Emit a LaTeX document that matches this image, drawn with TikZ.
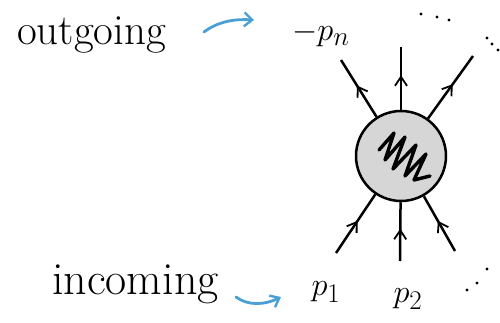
\documentclass[tikz,border=0pt]{standalone}
\usepackage{graphicx}
\usetikzlibrary{arrows.meta,decorations.markings}
\newcommand{\biglbl}[1]{\scalebox{1.3}{\fontsize{24.88}{26}\selectfont$#1$}}
\begin{document}
\begin{tikzpicture}[x=1pt,y=-1pt,
  leg/.style={line width=2.5pt,black},
  midarrow/.style={decoration={markings,mark=at position 0.55 with {\arrow{Straight Barb[length=9pt,width=12pt,line width=1.8pt]}}},postaction={decorate}},
  outfont/.style={font=\fontsize{43}{43}\selectfont},
  infont/.style={font=\fontsize{46}{46}\selectfont},
  mlbl/.style={inner sep=1pt},
  blue/.style={draw={rgb,255:red,74;green,160;blue,214},line width=2.8pt,line cap=round},
  dot/.style={circle,fill=black,inner sep=0pt,minimum size=3.2pt}
]
\useasboundingbox (0,0) rectangle (500,323);
\definecolor{blobgray}{RGB}{214,214,214}
\node[circle,draw,line width=2.5pt,fill=blobgray,minimum size=90pt,inner sep=0pt] (blob) at (401,156) {};
% scribble
\draw[line width=3.4pt,line join=round,line cap=round] (379,150) -- (394,133) -- (385,160) -- (405,137) -- (393,169) -- (416,145) -- (405,176) -- (426,154) -- (414,180) -- (430,176);
% outgoing lines
\coordinate (o1) at (341,60);
\coordinate (o2) at (401,47);
\coordinate (o3) at (473,56);
\draw[leg,midarrow] (blob) -- (o1);
\draw[leg,midarrow] (blob) -- (o2);
\draw[leg,midarrow] (blob) -- (o3);
% incoming lines
\coordinate (i1) at (336,253);
\coordinate (i2) at (400,261);
\coordinate (i3) at (455,251);
\draw[leg,midarrow] (i1) -- (blob);
\draw[leg,midarrow] (i2) -- (blob);
\draw[leg,midarrow] (i3) -- (blob);
% labels
\node[mlbl] (pn) at (321,34) {\biglbl{-p_n}};
\node[mlbl] (p1) at (326,292) {\biglbl{p_1}};
\node[mlbl] (p2) at (408,299) {\biglbl{p_2}};
\node[outfont,anchor=base west,inner sep=0pt] (out) at (17,45) {outgoing};
\node[infont,anchor=base west,inner sep=0pt] (inc) at (52,294) {incoming};
% blue arrows
\coordinate (a1s) at (204,32);
\coordinate (a1e) at (254,20);
\draw[blue,-{Straight Barb[length=8pt,width=14pt,line width=2.4pt]}] (a1s) .. controls (220,20) and (238,19) .. (a1e);
\coordinate (a2s) at (236,297);
\coordinate (a2e) at (281,297);
\draw[blue,-{Straight Barb[length=8pt,width=13pt,line width=2.4pt]}] (a2s) .. controls (248,306) and (265,305) .. (a2e);
% dots
\node[dot] (d1) at (421,14) {};
\node[dot] (d2) at (437,17) {};
\node[dot] (d3) at (449,20) {};
\node[dot] (d4) at (487,38) {};
\node[dot] (d5) at (492,44) {};
\node[dot] (d6) at (498,50) {};
\node[dot] (d7) at (467,290) {};
\node[dot] (d8) at (477,283) {};
\node[dot] (d9) at (487,269) {};
\end{tikzpicture}
\end{document}
